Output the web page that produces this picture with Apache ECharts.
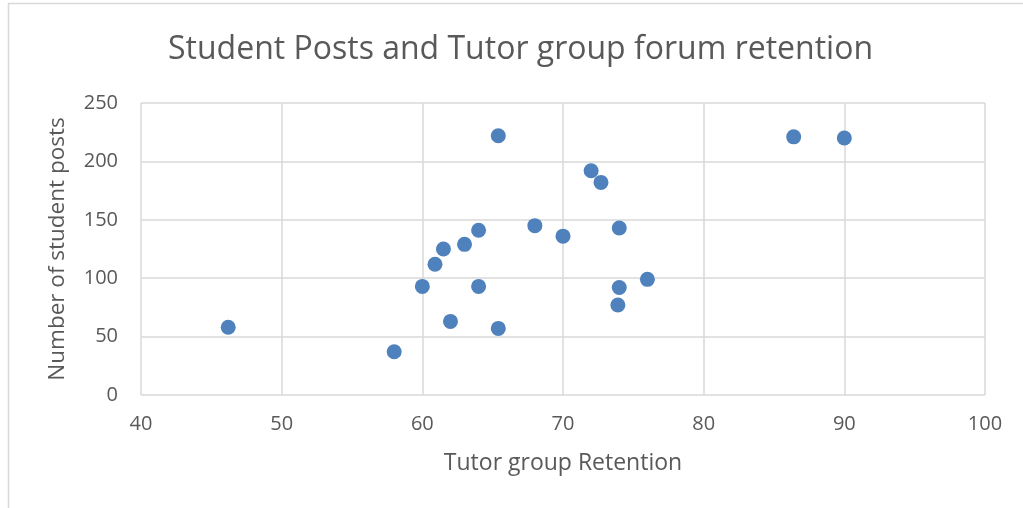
<!DOCTYPE html>
<html>
<head>
<meta charset="utf-8">
<script src="https://cdn.jsdelivr.net/npm/echarts@6/dist/echarts.min.js"></script>
<style>
  html, body { margin: 0; padding: 0; background: #fff; }
  #chart { width: 1023px; height: 508px; }
</style>
</head>
<body>
<div id="chart"></div>
<script>
  // Tutor group retention (%) vs number of student posts
  var retention = [46.2, 58.0, 60.0, 60.9, 61.5, 63.0, 64.0, 64.0, 62.0, 65.4, 65.4,
                   68.0, 70.0, 72.0, 72.7, 74.0, 76.0, 74.0, 73.9, 86.4, 90.0];
  var posts = [58, 37, 93, 112, 125, 129, 141, 93, 63, 57, 222,
               145, 136, 192, 182, 143, 99, 92, 77, 221, 220];

  var titleText = "Student Posts and Tutor group forum retention";
  var xName = "Tutor group Retention";
  var yName = "Number of student posts";

  var textColor = "#595959";
  var gridColor = "#d9d9d9";
  var fontFamily = "'Open Sans', 'Liberation Sans', sans-serif";

  var points = retention.map(function(r, i) {
    return [r, posts[i]];
  });

  var chart = echarts.init(document.getElementById("chart"), null, {renderer: "canvas"});

  chart.setOption({
    backgroundColor: "#fff",
    animation: false,
    title: {
      text: titleText,
      left: 163,
      top: 29,
      textStyle: {
        color: textColor,
        fontFamily: fontFamily,
        fontWeight: "normal",
        fontSize: 32
      }
    },
    graphic: [{
      type: "rect",
      shape: {x: 8.5, y: 3.5, width: 1100, height: 600},
      style: {fill: "none", stroke: gridColor, lineWidth: 1.5},
      silent: true
    }],
    grid: {
      left: 141,
      right: 38,
      top: 103,
      bottom: 113
    },
    xAxis: {
      type: "value",
      min: 40,
      max: 100,
      interval: 10,
      name: xName,
      nameLocation: "middle",
      nameGap: 57,
      nameTextStyle: {color: textColor, fontFamily: fontFamily, fontSize: 23},
      axisLine: {show: false},
      axisTick: {show: false},
      axisLabel: {color: textColor, fontFamily: fontFamily, fontSize: 20, margin: 19},
      splitLine: {show: true, lineStyle: {color: gridColor, width: 1.5}}
    },
    yAxis: {
      type: "value",
      min: 0,
      max: 250,
      interval: 50,
      name: yName,
      nameLocation: "middle",
      nameGap: 72,
      nameTextStyle: {color: textColor, fontFamily: fontFamily, fontSize: 22.5},
      axisLine: {show: false},
      axisTick: {show: false},
      axisLabel: {color: textColor, fontFamily: fontFamily, fontSize: 20, margin: 23},
      splitLine: {show: true, lineStyle: {color: gridColor, width: 1.5}}
    },
    series: [{
      type: "scatter",
      data: points,
      symbolSize: 15,
      itemStyle: {color: "#4f81bd", opacity: 1}
    }]
  });
</script>
</body>
</html>
